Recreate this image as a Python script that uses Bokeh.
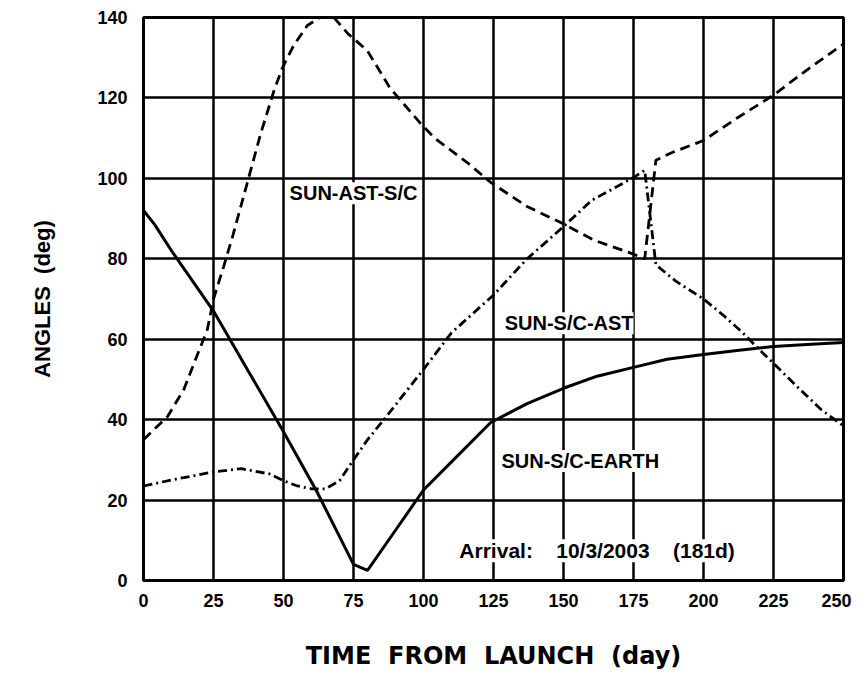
from bokeh.plotting import figure
from bokeh.models import Range1d, FixedTicker, Label
from bokeh.embed import file_html
from bokeh.resources import INLINE

# ---- data ----
x_ticks = [0, 25, 50, 75, 100, 125, 150, 175, 200, 225, 250]
y_ticks = [0, 20, 40, 60, 80, 100, 120, 140]

# SUN-S/C-EARTH (solid)
earth_day = [0, 4, 10, 25, 37.5, 50, 62, 75, 80, 90, 100, 110, 124, 137, 150, 162, 175, 187, 200, 212, 225, 237, 250]
earth_ang = [92, 88.5, 82, 67, 52, 37, 22, 4, 2.5, 12.5, 22.5, 29.5, 39.3, 44, 47.8, 50.8, 53, 55, 56.2, 57.2, 58.2, 58.7, 59.2]

# SUN-AST-S/C (dashed)
ast_day = [0, 8.6, 14.4, 19, 22.8, 25, 28.6, 32, 37.5, 41.8, 46.6, 49.6, 53.6, 58.5, 63, 68, 73, 80, 88, 99,
           104, 116, 124, 137, 149, 161, 174, 179, 183, 189, 200, 212, 225, 237, 250]
ast_ang = [35, 40.8, 47.5, 55.7, 62.4, 70, 78, 86, 100, 111, 121.8, 127.5, 133, 138, 140, 140, 136, 131.7, 122.5, 113.6,
           110, 103.7, 99, 93, 89, 84.6, 81.4, 80, 104.5, 106.5, 109.4, 115, 120.7, 127, 133.4]

# SUN-S/C-AST (dash-dot)
sca_day = [0, 10, 25, 35, 45, 50, 55, 60, 65, 70, 75, 80, 87, 100, 110, 125, 137, 150, 160, 175, 179,
           183, 190, 200, 207, 214, 221, 225, 233, 242, 250]
sca_ang = [23.5, 25, 27, 27.8, 26.5, 24.8, 23.5, 22.8, 22.8, 24.8, 30, 35, 41, 52.5, 61.6, 71, 80, 88, 94.5, 100.2, 102,
           78.5, 74.5, 70, 66, 61.6, 56.7, 54, 48.5, 42.5, 38.4]

FONT = "Liberation Sans"
SP = "\u00a0"

p = figure(width=851, height=672, output_backend="svg", toolbar_location=None,
           x_range=Range1d(0, 250), y_range=Range1d(0, 140),
           min_border_left=143, min_border_right=8, min_border_top=17, min_border_bottom=90)
p.background_fill_color = "white"
p.border_fill_color = "white"
p.outline_line_color = "black"
p.outline_line_width = 3

p.xaxis.ticker = FixedTicker(ticks=x_ticks)
p.yaxis.ticker = FixedTicker(ticks=y_ticks)
for ax in (p.xaxis[0], p.yaxis[0]):
    ax.axis_line_color = None
    ax.major_tick_line_color = None
    ax.minor_tick_line_color = None
    ax.major_label_text_font = FONT
    ax.major_label_text_font_style = "bold"
    ax.major_label_text_font_size = "18px"
    ax.major_label_text_color = "black"
    ax.axis_label_text_color = "black"
    ax.axis_label_text_font_style = "bold"

p.xaxis.major_label_standoff = 7
p.yaxis.major_label_standoff = 10
p.xaxis.axis_label = "TIME" + SP * 2 + "FROM" + SP * 2 + "LAUNCH" + SP * 2 + "(day)"
p.xaxis.axis_label_text_font = "DejaVu Sans"
p.xaxis.axis_label_text_font_size = "24px"
p.xaxis.axis_label_standoff = 32
p.yaxis.axis_label = "ANGLES" + SP * 2 + "(deg)"
p.yaxis.axis_label_text_font = FONT
p.yaxis.axis_label_text_font_size = "22px"
p.yaxis.axis_label_standoff = 39

for g in (p.xgrid[0], p.ygrid[0]):
    g.grid_line_color = "black"
    g.grid_line_width = 2.5
    g.grid_line_alpha = 1.0
p.xgrid.ticker = FixedTicker(ticks=x_ticks)
p.ygrid.ticker = FixedTicker(ticks=y_ticks)

p.line(earth_day, earth_ang, line_color="black", line_width=3)
p.line(ast_day, ast_ang, line_color="black", line_width=2.8, line_dash="10 6")
p.line(sca_day, sca_ang, line_color="black", line_width=2.8, line_dash="9 4 2 4")

def lab(x, y, t, size="20px"):
    p.add_layout(Label(x=x, y=y, text=t, text_align="center", text_baseline="middle",
                       text_font=FONT, text_font_style="bold", text_font_size=size,
                       text_color="black", background_fill_color="white"))

lab(75, 96.3, "SUN-AST-S/C")
lab(152, 64, "SUN-S/C-AST")
lab(156, 29.7, "SUN-S/C-EARTH")
lab(162, 7.4, "Arrival:" + SP * 4 + "10/3/2003" + SP * 4 + "(181d)", "21px")

open("out.html", "w").write(file_html(p, INLINE))
